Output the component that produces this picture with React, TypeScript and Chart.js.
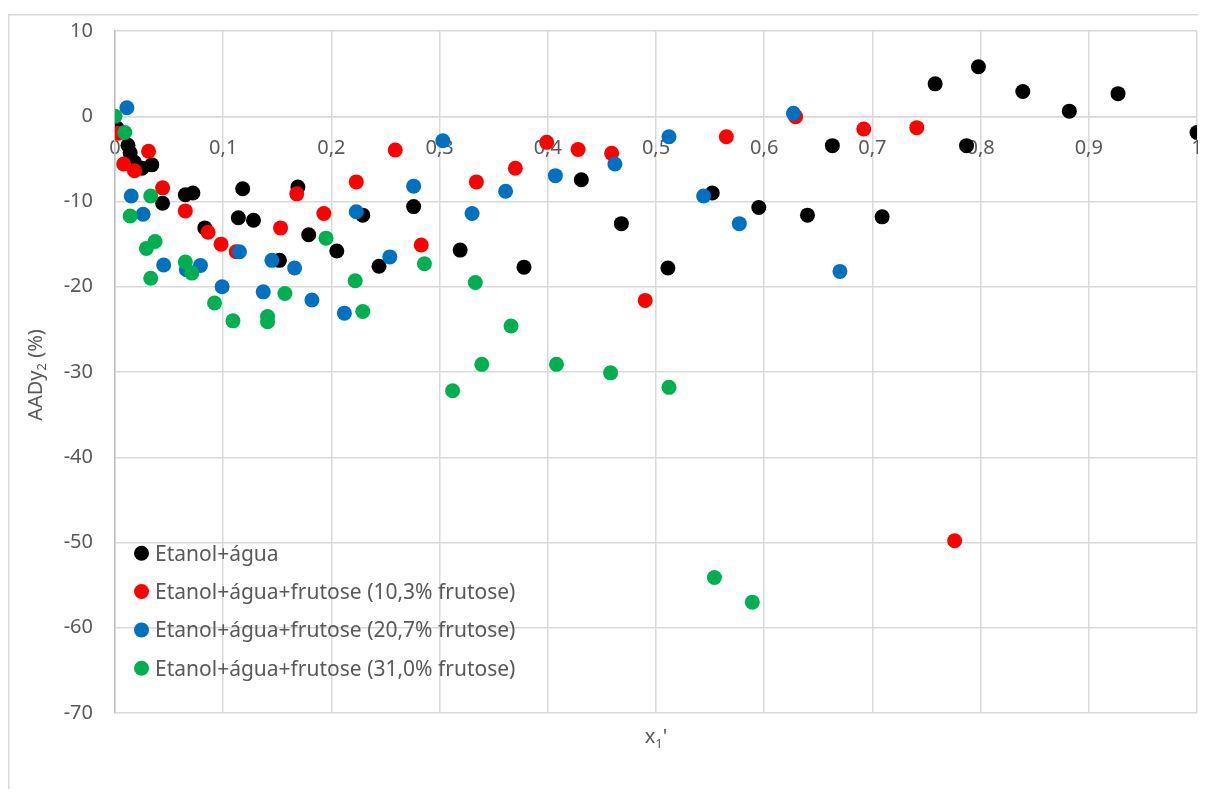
import React, { useEffect, useRef } from "react";
import { Chart, registerables } from "chart.js";

Chart.register(...registerables);

const FONT = "'Noto Sans', 'Open Sans', sans-serif";
const TEXT = "#595959";
const GRID = "#d9d9d9";

const seriesLabels = [
  "Etanol+água",
  "Etanol+água+frutose (10,3% frutose)",
  "Etanol+água+frutose (20,7% frutose)",
  "Etanol+água+frutose (31,0% frutose)",
];
const seriesColors = ["#000000", "#ff0000", "#0070c0", "#00b050"];

const blackX = [0.002, 0.012, 0.014, 0.018, 0.025, 0.034, 0.044, 0.065, 0.072, 0.083, 0.114, 0.118, 0.128, 0.152, 0.169, 0.179, 0.205, 0.229, 0.244, 0.276, 0.319, 0.378, 0.431, 0.468, 0.511, 0.552, 0.595, 0.64, 0.663, 0.709, 0.758, 0.787, 0.798, 0.839, 0.882, 0.927, 1.0];
const blackY = [-1.4, -3.4, -4.3, -5.4, -6.1, -5.7, -10.2, -9.2, -9.0, -13.1, -11.9, -8.5, -12.2, -16.9, -8.3, -13.9, -15.8, -11.6, -17.6, -10.6, -15.7, -17.7, -7.45, -12.6, -17.8, -9.0, -10.7, -11.6, -3.45, -11.8, 3.8, -3.45, 5.8, 2.9, 0.6, 2.65, -1.9];

const redX = [0.003, 0.008, 0.018, 0.031, 0.044, 0.065, 0.086, 0.098, 0.112, 0.153, 0.168, 0.193, 0.223, 0.259, 0.283, 0.334, 0.37, 0.399, 0.428, 0.459, 0.49, 0.565, 0.629, 0.692, 0.741, 0.776];
const redY = [-2.0, -5.6, -6.4, -4.1, -8.4, -11.1, -13.6, -15.0, -15.9, -13.1, -9.1, -11.4, -7.7, -3.96, -15.1, -7.7, -6.1, -3.06, -3.9, -4.35, -21.6, -2.4, -0.05, -1.5, -1.34, -49.8];

const blueX = [0.011, 0.015, 0.026, 0.045, 0.066, 0.079, 0.099, 0.115, 0.137, 0.145, 0.166, 0.182, 0.212, 0.223, 0.254, 0.276, 0.303, 0.33, 0.361, 0.407, 0.462, 0.512, 0.544, 0.577, 0.627, 0.67];
const blueY = [1.0, -9.35, -11.5, -17.45, -18.0, -17.5, -20.0, -15.9, -20.6, -16.9, -17.8, -21.55, -23.1, -11.2, -16.5, -8.2, -2.87, -11.4, -8.8, -6.97, -5.6, -2.4, -9.35, -12.6, 0.34, -18.2];

const greenX = [0, 0.009, 0.014, 0.029, 0.033, 0.033, 0.037, 0.065, 0.071, 0.092, 0.109, 0.141, 0.141, 0.157, 0.195, 0.222, 0.229, 0.286, 0.312, 0.333, 0.339, 0.366, 0.408, 0.458, 0.512, 0.554, 0.589];
const greenY = [0, -1.9, -11.7, -15.5, -9.35, -19.0, -14.7, -17.1, -18.4, -21.9, -24.0, -23.5, -24.1, -20.8, -14.3, -19.3, -22.9, -17.3, -32.2, -19.5, -29.1, -24.6, -29.1, -30.1, -31.8, -54.1, -57.0];

const xTitleMain = "x";
const xTitleSub = "1";
const xTitleEnd = "'";
const yTitleMain = "AADy";
const yTitleSub = "2";
const yTitleEnd = " (%)";

const xValues = [blackX, redX, blueX, greenX];
const yValues = [blackY, redY, blueY, greenY];

const framePlugin = {
  id: "frame",
  beforeDraw(chart: any) {
    const { ctx, width, height } = chart;
    ctx.save();
    ctx.fillStyle = "#ffffff";
    ctx.fillRect(0, 0, width, height);
    ctx.strokeStyle = GRID;
    ctx.lineWidth = 1.5;
    ctx.beginPath();
    ctx.moveTo(0.75, height);
    ctx.lineTo(0.75, 6.75);
    ctx.lineTo(width, 6.75);
    ctx.stroke();
    ctx.restore();
  },
};

const overlayPlugin = {
  id: "overlay",
  afterDraw(chart: any) {
    const { ctx, chartArea } = chart;
    ctx.save();
    ctx.fillStyle = TEXT;
    ctx.textBaseline = "alphabetic";
    ctx.textAlign = "left";
    const big = `20px ${FONT}`;
    const small = `13px ${FONT}`;
    const legendFont = `21px ${FONT}`;

    // legend
    const lx = chartArea.left + 26.5;
    const ly0 = chartArea.bottom - 159.8;
    const step = 38.35;
    seriesLabels.forEach((label, i) => {
      const cy = ly0 + i * step;
      ctx.fillStyle = seriesColors[i];
      ctx.beginPath();
      ctx.arc(lx, cy, 7.5, 0, Math.PI * 2);
      ctx.fill();
      ctx.fillStyle = TEXT;
      ctx.font = legendFont;
      ctx.fillText(label, lx + 13.5, cy + 7.4);
    });

    // x title
    ctx.font = big;
    const w1 = ctx.measureText(xTitleMain).width;
    ctx.font = small;
    const w2 = ctx.measureText(xTitleSub).width;
    ctx.font = big;
    const w3 = ctx.measureText(xTitleEnd).width;
    const total = w1 + w2 + w3;
    let x = (chartArea.left + chartArea.right) / 2 - total / 2;
    const by = chartArea.bottom + 30;
    ctx.font = big;
    ctx.fillText(xTitleMain, x, by);
    x += w1;
    ctx.font = small;
    ctx.fillText(xTitleSub, x, by + 5);
    x += w2;
    ctx.font = big;
    ctx.fillText(xTitleEnd, x, by);

    // y title
    ctx.save();
    ctx.translate(34, (chartArea.top + chartArea.bottom) / 2 + 3);
    ctx.rotate(-Math.PI / 2);
    ctx.font = big;
    const a1 = ctx.measureText(yTitleMain).width;
    ctx.font = small;
    const a2 = ctx.measureText(yTitleSub).width;
    ctx.font = big;
    const a3 = ctx.measureText(yTitleEnd).width;
    let t = -(a1 + a2 + a3) / 2;
    ctx.font = big;
    ctx.fillText(yTitleMain, t, 0);
    t += a1;
    ctx.font = small;
    ctx.fillText(yTitleSub, t, 4);
    t += a2;
    ctx.font = big;
    ctx.fillText(yTitleEnd, t, 0);
    ctx.restore();

    ctx.restore();
  },
};

export default function App() {
  const ref = useRef<HTMLCanvasElement | null>(null);

  useEffect(() => {
    if (!ref.current) return;
    const datasets = seriesLabels.map((label, i) => ({
      label,
      data: xValues[i].map((xv, j) => ({ x: xv, y: yValues[i][j] })),
      backgroundColor: seriesColors[i],
      borderColor: seriesColors[i],
      borderWidth: 0,
      pointRadius: 7.5,
      pointHoverRadius: 7.5,
      pointBorderWidth: 0,
      order: 3 - i,
    }));
    const chart = new Chart(ref.current, {
      type: "scatter",
      data: { datasets },
      options: {
        animation: false,
        responsive: false,
        maintainAspectRatio: false,
        layout: { autoPadding: false, padding: { top: 23, right: 7, bottom: 76, left: 0 } },
        plugins: {
          legend: { display: false },
          tooltip: { enabled: false },
        },
        scales: {
          x: {
            type: "linear",
            position: { y: 0 } as any,
            min: 0,
            max: 1,
            ticks: {
              stepSize: 0.1,
              padding: 20,
              color: TEXT,
              font: { family: FONT, size: 20 },
              maxRotation: 0,
              autoSkip: false,
              callback: (v: any) => String(Math.round(Number(v) * 10) / 10).replace(".", ","),
            },
            grid: { color: GRID, lineWidth: 1.5, drawTicks: false },
            border: { color: GRID, width: 1.5 },
            afterFit: (s: any) => {
              s.paddingLeft = 0;
              s.paddingRight = 0;
              s.paddingTop = 0;
              s.paddingBottom = 0;
            },
          },
          y: {
            type: "linear",
            position: "left",
            min: -70,
            max: 10,
            ticks: {
              stepSize: 10,
              padding: 22,
              color: TEXT,
              font: { family: FONT, size: 20 },
              callback: (v: any) => String(v),
            },
            grid: { color: GRID, lineWidth: 1.5, drawTicks: false },
            border: { color: "#bfbfbf", width: 1.5 },
            afterFit: (s: any) => {
              s.width = 107;
              s.paddingLeft = 0;
              s.paddingRight = 0;
              s.paddingTop = 0;
              s.paddingBottom = 0;
            },
          },
        },
      },
      plugins: [framePlugin, overlayPlugin],
    });
    return () => chart.destroy();
  }, []);

  return (
    <div style={{ width: 1196, height: 781 }}>
      <canvas ref={ref} width={1196} height={781} style={{ display: "block" }} />
    </div>
  );
}
